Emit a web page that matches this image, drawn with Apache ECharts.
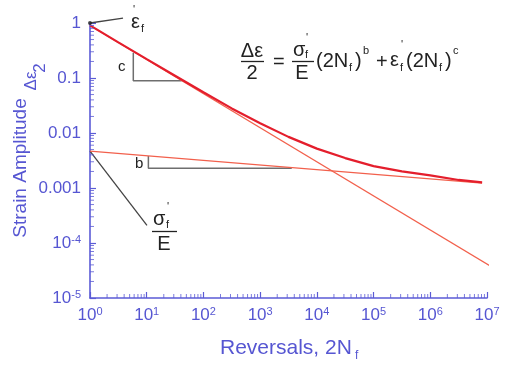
<!DOCTYPE html>
<html><head><meta charset="utf-8">
<script src="https://cdn.jsdelivr.net/npm/echarts@6/dist/echarts.min.js"></script>
<style>html,body{margin:0;padding:0;background:#fff}#c{width:509px;height:366px}</style>
</head><body><div id="c"></div>
<script>
// ---- data ----
const xTickLabels = ['10{sup|0}','10{sup|1}','10{sup|2}','10{sup|3}','10{sup|4}','10{sup|5}','10{sup|6}','10{sup|7}'];
const yTickLabels = ['10{sup|-5}','10{sup|-4}','0.001','0.01','0.1','1'];
// plastic (Coffin-Manson) line endpoints [2Nf, strain amplitude]
const plasticLine = [[1, 0.9], [12600000, 0.000036]];
// elastic (Basquin) line endpoints
const elasticLine = [[1, 0.0047], [8200000, 0.00123]];
// total strain-life curve
const totalCurve = [[1,0.905],[3.16,0.445],[10,0.22],[31.6,0.11],[100,0.055],[316,0.028],[1000,0.0151],[3160,0.0085],[10000,0.0052],[31600,0.0035],[100000,0.0025],[316000,0.002],[1000000,0.0017],[3160000,0.0014],[8200000,0.00127]];
// slope triangles and leader lines
const cTriangle = [[5.8,0.288],[5.8,0.089],[41.4,0.089]];
const bTriangle = [[10.7,0.00382],[10.7,0.00228],[3610,0.00228]];
const epsLeader = [[1,1],[3.82,1.23]];
const sigmaLeader = [[1,0.0047],[10.1,0.00021]];
const xMinor = [];
for (let k = 0; k < 7; k++) for (let m = 2; m <= 9; m++) xMinor.push(m * Math.pow(10, k));
const yMinor = [];
for (let k = -5; k < 0; k++) for (let m = 2; m <= 9; m++) yMinor.push(m * Math.pow(10, k));

// ---- chart ----
const FONT = '"Liberation Sans", Arial, Helvetica, sans-serif';
const AX = '#5b5bd6';
const LBL = '#5656d2';
const INK = '#222222';
const chart = echarts.init(document.getElementById('c'), null, {renderer: 'canvas'});
const expOf = v => Math.round(Math.log10(v));
const rich = {
  sup: {fontSize: 11, fontFamily: FONT, color: LBL, verticalAlign: 'top', padding: [0,0,7,0]}
};
function T(text, x, y, size, styleExtra, rotation) {
  const el = {type: 'text', x: x, y: y, silent: true, z: 10,
    style: Object.assign({text: text, fontSize: size, fontFamily: FONT, fill: INK, align: 'left', verticalAlign: 'middle'}, styleExtra || {})};
  if (rotation) el.rotation = rotation;
  return el;
}
function L(x1, y1, x2, y2, color, w) {
  return {type: 'line', silent: true, z: 10, shape: {x1, y1, x2, y2}, style: {stroke: color || INK, lineWidth: w || 1.2}};
}
const lineSeries = (data, color, width, z) => ({
  type: 'line', data: data, symbol: 'none', clip: false, silent: true, z: z || 2,
  lineStyle: {color: color, width: width}, animation: false
});
function tickSeries(data, size, offset) {
  return {type: 'scatter', silent: true, z: 5, clip: false, animation: false,
    data: data, symbol: 'rect', symbolSize: size, symbolOffset: offset,
    itemStyle: {color: AX}};
}
const option = {
  animation: false,
  grid: {left: 90, right: 22, top: 23, bottom: 68, containLabel: false},
  xAxis: {
    type: 'log', logBase: 10, min: 1, max: 10000000, interval: 1,
    axisLine: {lineStyle: {color: AX, width: 1.6}},
    axisTick: {inside: true, length: 6, lineStyle: {color: AX, width: 1.2}},
    minorTick: {show: false},
    splitLine: {show: false},
    axisLabel: {margin: 8, fontSize: 17, fontFamily: FONT, color: LBL,
      formatter: v => xTickLabels[expOf(v)], rich: rich}
  },
  yAxis: {
    type: 'log', logBase: 10, min: 0.00001, max: 1, interval: 1,
    axisLine: {lineStyle: {color: AX, width: 1.6}},
    axisTick: {inside: true, length: 6, lineStyle: {color: AX, width: 1.2}},
    minorTick: {show: false},
    splitLine: {show: false},
    axisLabel: {margin: 9, fontSize: 17, fontFamily: FONT, color: LBL,
      formatter: v => yTickLabels[expOf(v) + 5], rich: rich}
  },
  series: [
    lineSeries(elasticLine, '#f2604c', 1.3, 2),
    lineSeries(plasticLine, '#f2604c', 1.3, 2),
    lineSeries(totalCurve, '#e41e2c', 2.2, 3),
    lineSeries(cTriangle, '#6e6e6e', 1.5, 1),
    lineSeries(bTriangle, '#6e6e6e', 1.5, 1),
    lineSeries(epsLeader, '#444444', 1.3, 1),
    lineSeries(sigmaLeader, '#444444', 1.3, 1),
    tickSeries(xMinor.map(v => [v, 0.00001]), [1, 4], [0, -2]),
    tickSeries(yMinor.map(v => [1, v]), [4, 1], [2, 0]),
    {type: 'scatter', silent: true, z: 6, data: [[1, 1]], symbol: 'circle', symbolSize: 4, itemStyle: {color: '#222'}}
  ],
  graphic: [
    // axis titles
    T('Reversals, 2N', 220, 348, 21, {fill: LBL}),
    T('f', 355, 356, 12, {fill: LBL}),
    T('Strain Amplitude', 21, 168, 19, {fill: LBL, align: 'center'}, Math.PI / 2),
    T('\u0394\u03b5', 31, 81, 17, {fill: LBL, align: 'center'}, Math.PI / 2),
    T('2', 40, 68, 17, {fill: LBL, align: 'center'}, Math.PI / 2),
    // formula
    T('\u0394\u03b5', 252, 51, 20, {align: 'center'}),
    L(241, 61.5, 264, 61.5, INK, 1.3),
    T('2', 252, 73, 20, {align: 'center'}),
    T('=', 273, 62, 20),
    T('\u03c3', 293, 50, 20),
    T('f', 305, 55, 11),
    T("'", 306, 38, 11),
    L(292, 61.5, 314, 61.5, INK, 1.3),
    T('E', 302, 73, 20, {align: 'center'}),
    T('(2N', 316, 61, 20),
    T('f', 349, 68, 11),
    T(')', 355, 61, 20),
    T('b', 363, 51, 11),
    T('+', 376, 62, 20),
    T('\u03b5', 390, 60, 20),
    T('f', 400, 68, 11),
    T("'", 401, 45, 11),
    T('(2N', 406, 61, 20),
    T('f', 439, 68, 11),
    T(')', 445, 61, 20),
    T('c', 453, 51, 11),
    // annotations
    T('\u03b5', 131, 22, 20),
    T('f', 141, 29, 11),
    T("'", 133, 10, 11),
    T('c', 118, 67, 15),
    T('b', 135, 164, 15),
    T('\u03c3', 153, 219, 20),
    T('f', 166, 225, 11),
    T("'", 167, 207, 11),
    L(152, 231.5, 177, 231.5, INK, 1.3),
    T('E', 164, 244, 20, {align: 'center'})
  ]
};
chart.setOption(option);
</script></body></html>
